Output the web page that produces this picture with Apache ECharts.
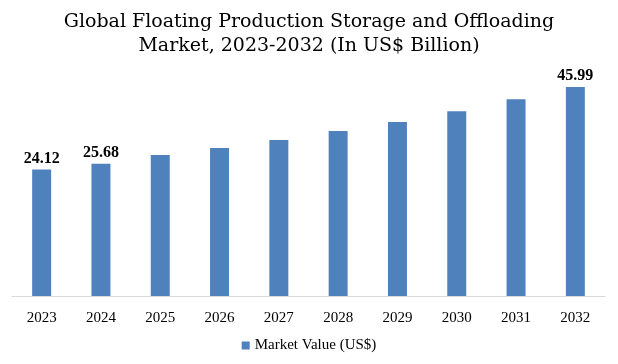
<!DOCTYPE html>
<html>
<head>
<meta charset="utf-8">
<script src="https://cdn.jsdelivr.net/npm/echarts@6/dist/echarts.min.js"></script>
<style>html,body{margin:0;padding:0;background:#fff}#c{width:618px;height:364px}</style>
</head>
<body>
<div id="c"></div>
<script>
const years = ['2023','2024','2025','2026','2027','2028','2029','2030','2031','2032'];
const values = [24.12, 25.68, 28.0, 29.85, 31.97, 34.36, 36.75, 39.59, 42.77, 45.99];
const labelledYears = ['2023','2024','2032'];
const seriesName = 'Market Value (US$)';
const titleText = 'Global Floating Production Storage and Offloading\nMarket, 2023-2032 (In US$ Billion)';
const Y_MIN = -9.4;
const Y_MAX = 50;

const serif = '"Liberation Serif", "Times New Roman", serif';
const titleSerif = '"DejaVu Serif", serif';
const chart = echarts.init(document.getElementById('c'));
chart.setOption({
  animation: false,
  title: {
    text: titleText,
    left: 'center',
    top: 5,
    textStyle: { fontFamily: titleSerif, fontSize: 19, fontWeight: 'normal', color: '#000', lineHeight: 24 }
  },
  legend: {
    data: [{ name: seriesName, icon: 'rect' }],
    bottom: 6,
    left: 'center',
    itemWidth: 8,
    itemHeight: 8,
    itemGap: 4,
    textStyle: { fontFamily: serif, fontSize: 15, color: '#000' }
  },
  grid: { left: 12, right: 13, top: 72, height: 224 },
  xAxis: {
    type: 'category',
    data: years,
    axisLine: { show: true, onZero: false, lineStyle: { color: '#d9d9d9', width: 1 } },
    axisTick: { show: false },
    axisLabel: { fontFamily: serif, fontSize: 15, color: '#000', margin: 15 }
  },
  yAxis: {
    type: 'value',
    min: Y_MIN,
    max: Y_MAX,
    show: false,
    splitLine: { show: false }
  },
  series: [{
    type: 'custom',
    name: seriesName,
    itemStyle: { color: '#4f81bd' },
    data: years.map((y, i) => [i, values[i]]),
    encode: { x: 0, y: 1 },
    renderItem: function (params, api) {
      const idx = api.value(0);
      const v = api.value(1);
      const top = api.coord([idx, v]);
      const base = api.coord([idx, Y_MIN]);
      const w = api.size([1, 0])[0] * 0.32;
      const show = labelledYears.indexOf(years[idx]) >= 0;
      return {
        type: 'rect',
        shape: { x: top[0] - w / 2, y: top[1], width: w, height: base[1] - top[1] },
        style: { fill: '#4f81bd' },
        textContent: show ? {
          style: { text: v.toFixed(2), fontFamily: serif, fontSize: 16, fontWeight: 'bold', fill: '#000' }
        } : undefined,
        textConfig: show ? { position: 'top', distance: 3 } : undefined
      };
    }
  }]
});
</script>
</body>
</html>
